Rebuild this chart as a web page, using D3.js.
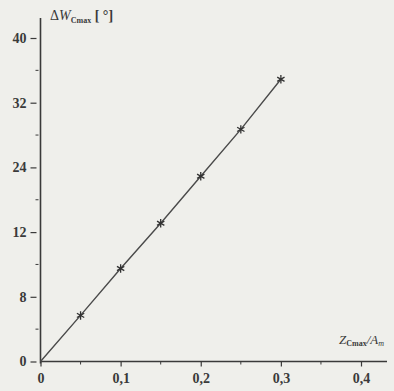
<!DOCTYPE html>
<html><head><meta charset="utf-8">
<script src="https://cdn.jsdelivr.net/npm/d3@7"></script>
<style>
html,body{margin:0;padding:0;background:#efefeb;}
svg{display:block;}
</style></head>
<body>
<script>
const xValues = [0.05, 0.10, 0.15, 0.20, 0.25, 0.30];
const yValues = [5.7, 11.5, 17.1, 22.9, 28.7, 34.9];
const xTicks = [0, 0.1, 0.2, 0.3, 0.4];
const xTickLabels = ["0", "0,1", "0,2", "0,3", "0,4"];
const yTicks = [0, 8, 16, 24, 32, 40];
const yTickLabels = ["0", "8", "12", "24", "32", "40"];

const W = 394, H = 391;
const svg = d3.select("body").append("svg").attr("width", W).attr("height", H);
svg.append("rect").attr("width", W).attr("height", H).attr("fill", "#efefeb");

const x = d3.scaleLinear().domain([0, 0.4]).range([40.5, 361]);
const y = d3.scaleLinear().domain([0, 40]).range([361.5, 38]);
const ink = "#3a3a3a";
const font = "'Times New Roman', 'Liberation Serif', Tinos, serif";

// axes lines
svg.append("line").attr("x1", x(0)).attr("x2", 387).attr("y1", y(0)).attr("y2", y(0))
  .attr("stroke", ink).attr("stroke-width", 1.6);
svg.append("line").attr("x1", x(0)).attr("x2", x(0)).attr("y1", y(0) + 2).attr("y2", 18)
  .attr("stroke", ink).attr("stroke-width", 1.6);

// x axis ticks via d3 axis
const xAxis = d3.axisBottom(x).tickValues(xTicks).tickSize(5)
  .tickFormat((d, i) => xTickLabels[i]);
const gx = svg.append("g").attr("transform", `translate(0,${y(0)})`).call(xAxis);
gx.select(".domain").remove();
gx.selectAll("line").attr("stroke", ink).attr("stroke-width", 1.2);
gx.selectAll("text").attr("fill", ink).attr("font-family", font).attr("font-size", 14)
  .attr("font-weight", "bold").attr("dy", "0.95em");
// x minor ticks
svg.append("g").selectAll("line").data([0.05, 0.15, 0.25, 0.35]).join("line")
  .attr("x1", d => x(d)).attr("x2", d => x(d)).attr("y1", y(0)).attr("y2", y(0) + 3)
  .attr("stroke", ink).attr("stroke-width", 1);

// y axis ticks
const yAxis = d3.axisLeft(y).tickValues(yTicks).tickSize(0)
  .tickFormat((d, i) => yTickLabels[i]);
const gy = svg.append("g").attr("transform", `translate(${x(0)},0)`).call(yAxis);
gy.select(".domain").remove();
gy.selectAll("text").attr("fill", ink).attr("font-family", font).attr("font-size", 14)
  .attr("font-weight", "bold").attr("x", -14);
gy.selectAll(".tick").append("line").attr("x1", -10).attr("x2", -4)
  .attr("stroke", ink).attr("stroke-width", 1.2);
svg.append("g").selectAll("line").data([4, 12, 20, 28, 36]).join("line")
  .attr("x1", x(0) - 5).attr("x2", x(0) - 2).attr("y1", d => y(d)).attr("y2", d => y(d))
  .attr("stroke", ink).attr("stroke-width", 1);

// data line
const pts = [[0, 0]].concat(xValues.map((v, i) => [v, yValues[i]]));
svg.append("path").datum(pts)
  .attr("d", d3.line().x(d => x(d[0])).y(d => y(d[1])))
  .attr("fill", "none").attr("stroke", "#4a4a4a").attr("stroke-width", 1.4);

// markers
svg.append("g").selectAll("path").data(xValues.map((v, i) => [v, yValues[i]])).join("path")
  .attr("transform", d => `translate(${x(d[0])},${y(d[1])})`)
  .attr("d", d3.symbol(d3.symbolAsterisk, 50))
  .attr("fill", "none").attr("stroke", "#333").attr("stroke-width", 1.3);

// axis titles
const yt = svg.append("text").attr("x", 50).attr("y", 20).attr("fill", ink)
  .attr("font-family", font).attr("font-size", 14);
yt.append("tspan").text("Δ");
yt.append("tspan").attr("font-style", "italic").text("W");
yt.append("tspan").attr("font-size", 8).attr("dy", 3).attr("font-weight", "bold").text("Cmax");
yt.append("tspan").attr("dy", -3).attr("font-weight", "bold").text(" [ °]");

const xt = svg.append("text").attr("x", 339).attr("y", 344).attr("fill", ink)
  .attr("font-family", font).attr("font-size", 13).attr("font-style", "italic");
xt.append("tspan").text("Z");
xt.append("tspan").attr("font-size", 8).attr("dy", 2).attr("font-style", "normal").attr("font-weight", "bold").text("Cmax");
xt.append("tspan").attr("dy", -2).text("/A");
xt.append("tspan").attr("font-size", 8).attr("dy", 2).text("m");
</script>
</body></html>
